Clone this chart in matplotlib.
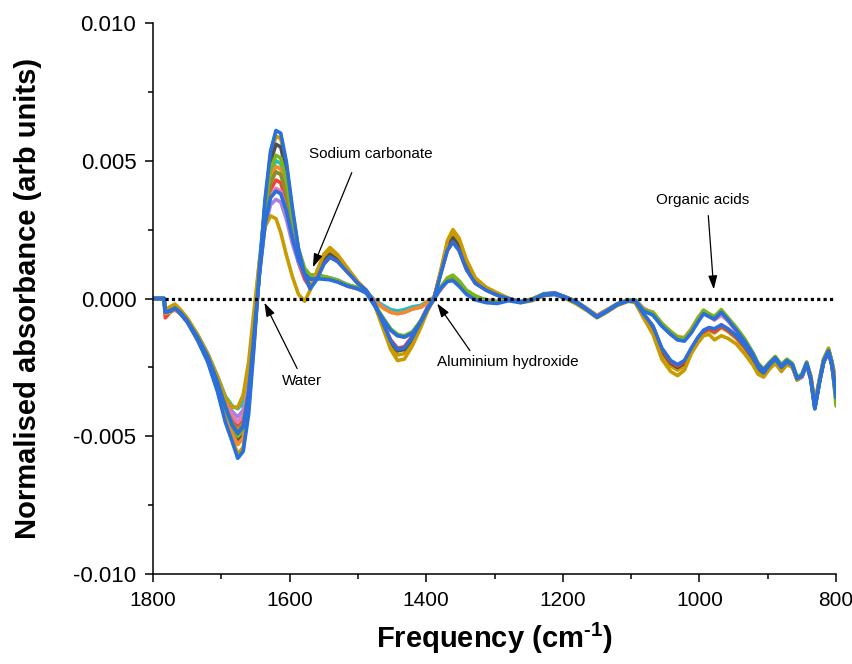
import numpy as np
import matplotlib

matplotlib.use("Agg")
import matplotlib.pyplot as plt
from matplotlib.ticker import MultipleLocator, FormatStrFormatter

plt.rcParams["font.family"] = ["Liberation Sans", "DejaVu Sans"]
plt.rcParams["axes.unicode_minus"] = False
plt.rcParams["mathtext.fontset"] = "custom"
plt.rcParams["mathtext.rm"] = "Liberation Sans:bold"
plt.rcParams["mathtext.bf"] = "Liberation Sans:bold"

# wavenumber grid (cm-1), spectra values below are in units of 1e-3
wavenumber = [
    1800, 1784, 1782, 1775, 1768, 1760, 1750, 1735, 1720, 1706, 1694,
    1684, 1676, 1668, 1660, 1652, 1644, 1636, 1628, 1620, 1613, 1605, 1596, 1587, 1578, 1570,
    1560, 1550, 1541, 1530, 1515, 1500, 1488, 1476, 1463, 1452, 1442, 1432, 1420, 1408, 1398,
    1388, 1378, 1369, 1361, 1352, 1341, 1328,
    1312, 1296, 1280, 1262, 1245, 1228, 1212, 1196, 1180, 1164, 1150, 1136, 1120, 1104, 1094, 1082,
    1068, 1055, 1042, 1032, 1022, 1012, 1002, 994, 986, 978, 968, 958, 946, 934,
    922, 914, 906, 897, 889, 880, 872, 864, 857, 850, 843, 837, 831, 824, 818, 811, 806, 800,
]

gold_a = (
    [0, 0, -0.4, -0.3, -0.2, -0.4, -0.7, -1.3, -2.0, -2.8, -3.6]
    + [-3.95, -3.95, -3.5, -2.3, -0.4, 1.4, 2.6, 3.0, 2.9, 2.4, 1.6, 0.8, 0.15, -0.1, 0.3]
    + [1.0, 1.6, 1.85, 1.6, 1.1, 0.6, 0.3, -0.2, -1.1, -1.85, -2.25, -2.2, -1.7, -1.05, -0.45,
       0.05, 1.1, 2.1, 2.5, 2.2, 1.4, 0.75]
    + [0.4, 0.2, 0.0, -0.15, -0.08, 0.1, 0.15, 0.0, -0.2, -0.45, -0.7, -0.5, -0.25, -0.1, -0.15, -0.7]
    + [-1.3, -2.2, -2.65, -2.8, -2.6, -2.0, -1.6, -1.35, -1.3, -1.5, -1.35, -1.45, -1.65, -2.0]
    + [-2.4, -2.75, -2.85, -2.55, -2.35, -2.65, -2.4, -2.5, -2.95, -2.8, -2.35, -2.8, -3.8, -2.9,
       -2.2, -1.85, -2.3, -3.2]
)
gold_b = (
    [0, 0, -0.5, -0.45, -0.35, -0.55, -0.85, -1.5, -2.25, -3.3, -4.4]
    + [-5.1, -5.65, -5.4, -4.0, -1.6, 1.1, 3.5, 5.2, 5.9, 5.8, 4.9, 3.2, 1.8, 0.9, 0.45]
    + [0.9, 1.45, 1.7, 1.5, 1.05, 0.6, 0.3, -0.2, -1.0, -1.7, -2.05, -2.0, -1.55, -0.95, -0.4,
       0.05, 1.05, 1.95, 2.35, 2.05, 1.3, 0.7]
    + [0.4, 0.2, 0.02, -0.12, -0.05, 0.15, 0.18, 0.05, -0.15, -0.4, -0.65, -0.45, -0.2, -0.08, -0.1, -0.6]
    + [-1.1, -2.0, -2.45, -2.6, -2.45, -1.95, -1.55, -1.25, -1.15, -1.25, -1.05, -1.2, -1.45, -1.8]
    + [-2.2, -2.6, -2.75, -2.45, -2.25, -2.55, -2.35, -2.45, -2.95, -2.85, -2.4, -2.9, -3.95, -3.0,
       -2.3, -1.95, -2.45, -3.6]
)
red = (
    [0, 0, -0.7, -0.5, -0.4, -0.55, -0.8, -1.4, -2.1, -3.0, -3.85]
    + [-4.3, -4.6, -4.35, -3.2, -1.1, 1.0, 2.9, 3.95, 4.3, 4.2, 3.5, 2.3, 1.3, 0.7, 0.4]
    + [0.75, 1.25, 1.5, 1.35, 0.95, 0.55, 0.3, -0.15, -0.9, -1.5, -1.8, -1.75, -1.35, -0.8, -0.3,
       0.1, 1.0, 1.75, 2.05, 1.75, 1.05, 0.55]
    + [0.3, 0.12, 0.0, -0.12, -0.05, 0.15, 0.2, 0.05, -0.12, -0.4, -0.65, -0.45, -0.2, -0.08, -0.1, -0.55]
    + [-1.0, -1.85, -2.3, -2.45, -2.3, -1.85, -1.45, -1.2, -1.1, -1.2, -1.0, -1.15, -1.4, -1.75]
    + [-2.1, -2.5, -2.7, -2.45, -2.2, -2.5, -2.3, -2.4, -2.9, -2.8, -2.35, -2.85, -3.85, -2.95,
       -2.25, -1.9, -2.35, -3.3]
)
violet = (
    [0, 0, -0.45, -0.4, -0.3, -0.45, -0.75, -1.35, -2.05, -2.9, -3.7]
    + [-4.1, -4.3, -4.05, -2.9, -0.9, 1.0, 2.6, 3.4, 3.6, 3.5, 2.9, 2.0, 1.3, 0.9, 0.8]
    + [0.8, 0.75, 0.72, 0.65, 0.45, 0.35, 0.25, -0.05, -0.3, -0.45, -0.5, -0.45, -0.35, -0.3, -0.15,
       0.05, 0.35, 0.65, 0.75, 0.55, 0.25, 0.05]
    + [-0.05, -0.1, -0.05, -0.12, -0.02, 0.15, 0.2, 0.05, -0.12, -0.38, -0.62, -0.42, -0.18, -0.05, -0.05, -0.35]
    + [-0.55, -0.95, -1.25, -1.45, -1.5, -1.2, -0.8, -0.55, -0.65, -0.75, -0.55, -0.8, -1.15, -1.55]
    + [-2.0, -2.4, -2.6, -2.35, -2.15, -2.45, -2.25, -2.4, -2.9, -2.8, -2.35, -2.85, -3.85, -2.95,
       -2.2, -1.85, -2.3, -3.1]
)
cyan = (
    [0, 0, -0.45, -0.4, -0.3, -0.45, -0.75, -1.3, -2.0, -2.8, -3.55]
    + [-3.9, -4.0, -3.8, -2.7, -0.7, 1.4, 3.3, 4.6, 5.0, 4.9, 4.1, 2.8, 1.7, 1.05, 0.85]
    + [0.85, 0.8, 0.75, 0.68, 0.5, 0.38, 0.25, -0.05, -0.25, -0.4, -0.45, -0.4, -0.3, -0.25, -0.1,
       0.05, 0.4, 0.7, 0.8, 0.6, 0.28, 0.08]
    + [-0.05, -0.12, -0.05, -0.1, -0.02, 0.18, 0.2, 0.05, -0.12, -0.38, -0.62, -0.42, -0.2, -0.05, -0.05, -0.4]
    + [-0.6, -1.0, -1.3, -1.45, -1.45, -1.15, -0.75, -0.5, -0.6, -0.7, -0.5, -0.75, -1.1, -1.5]
    + [-2.0, -2.4, -2.6, -2.35, -2.15, -2.45, -2.25, -2.4, -2.9, -2.75, -2.35, -2.85, -3.8, -2.9,
       -2.2, -1.85, -2.3, -3.2]
)
green = (
    [0, 0, -0.5, -0.45, -0.35, -0.5, -0.8, -1.4, -2.1, -3.05, -4.0]
    + [-4.65, -5.0, -4.75, -3.5, -1.3, 1.1, 3.3, 4.7, 5.2, 5.1, 4.3, 2.9, 1.8, 1.1, 0.85]
    + [0.85, 0.8, 0.75, 0.65, 0.5, 0.4, 0.25, -0.2, -0.7, -1.1, -1.3, -1.35, -1.2, -0.8, -0.35,
       0.0, 0.45, 0.75, 0.85, 0.65, 0.3, 0.1]
    + [-0.08, -0.15, -0.05, -0.12, -0.02, 0.15, 0.18, 0.05, -0.12, -0.4, -0.65, -0.45, -0.2, -0.05, -0.05, -0.4]
    + [-0.5, -0.9, -1.2, -1.4, -1.45, -1.15, -0.7, -0.42, -0.55, -0.65, -0.4, -0.7, -1.05, -1.45]
    + [-1.95, -2.35, -2.55, -2.3, -2.1, -2.4, -2.2, -2.35, -2.85, -2.75, -2.3, -2.85, -3.9, -2.95,
       -2.2, -1.8, -2.3, -3.9]
)
olive = (
    [0, 0, -0.5, -0.45, -0.35, -0.5, -0.8, -1.4, -2.1, -3.0, -3.9]
    + [-4.5, -4.8, -4.55, -3.35, -1.2, 1.0, 3.0, 4.2, 4.6, 4.5, 3.8, 2.6, 1.6, 1.0, 0.8]
    + [0.8, 0.75, 0.7, 0.62, 0.48, 0.38, 0.25, -0.2, -0.75, -1.15, -1.35, -1.4, -1.25, -0.85, -0.38,
       0.0, 0.42, 0.7, 0.8, 0.6, 0.28, 0.08]
    + [-0.1, -0.15, -0.05, -0.13, -0.03, 0.15, 0.18, 0.05, -0.13, -0.42, -0.66, -0.45, -0.2, -0.06, -0.06, -0.42]
    + [-0.55, -0.95, -1.25, -1.45, -1.5, -1.2, -0.75, -0.48, -0.6, -0.7, -0.45, -0.75, -1.1, -1.5]
    + [-2.0, -2.4, -2.6, -2.35, -2.15, -2.45, -2.25, -2.4, -2.9, -2.8, -2.35, -2.9, -3.95, -3.0,
       -2.25, -1.85, -2.35, -3.7]
)
pink = (
    [0, 0, -0.5, -0.45, -0.35, -0.5, -0.8, -1.4, -2.1, -2.95, -3.8]
    + [-4.25, -4.5, -4.25, -3.1, -1.0, 1.0, 2.8, 3.75, 4.0, 3.9, 3.25, 2.2, 1.4, 0.95, 0.8]
    + [0.78, 0.72, 0.7, 0.62, 0.45, 0.35, 0.22, -0.08, -0.32, -0.5, -0.55, -0.5, -0.38, -0.32, -0.15,
       0.05, 0.35, 0.62, 0.72, 0.52, 0.22, 0.03]
    + [-0.08, -0.12, -0.06, -0.12, -0.03, 0.15, 0.2, 0.05, -0.12, -0.38, -0.63, -0.43, -0.2, -0.06, -0.06, -0.38]
    + [-0.55, -0.95, -1.3, -1.5, -1.5, -1.2, -0.8, -0.55, -0.65, -0.78, -0.6, -0.82, -1.2, -1.6]
    + [-2.05, -2.45, -2.65, -2.4, -2.2, -2.5, -2.3, -2.45, -2.95, -2.85, -2.4, -2.9, -3.9, -3.0,
       -2.25, -1.9, -2.35, -3.3]
)
dark_grey = (
    [0, 0, -0.5, -0.45, -0.35, -0.5, -0.8, -1.45, -2.15, -3.1, -4.1]
    + [-4.8, -5.2, -4.95, -3.7, -1.4, 1.1, 3.4, 4.95, 5.6, 5.5, 4.6, 3.0, 1.7, 0.85, 0.4]
    + [0.8, 1.35, 1.6, 1.4, 1.0, 0.55, 0.3, -0.15, -0.95, -1.6, -1.9, -1.85, -1.45, -0.88, -0.35,
       0.05, 1.0, 1.85, 2.2, 1.9, 1.15, 0.6]
    + [0.35, 0.15, 0.0, -0.12, -0.05, 0.15, 0.18, 0.05, -0.15, -0.4, -0.65, -0.45, -0.2, -0.08, -0.1, -0.55]
    + [-1.05, -1.9, -2.35, -2.5, -2.35, -1.9, -1.5, -1.2, -1.1, -1.2, -1.0, -1.15, -1.4, -1.75]
    + [-2.15, -2.55, -2.7, -2.45, -2.25, -2.55, -2.35, -2.45, -2.95, -2.85, -2.4, -2.95, -4.0, -3.0,
       -2.3, -1.95, -2.45, -3.5]
)
orange = (
    [0, 0, -0.55, -0.5, -0.4, -0.55, -0.85, -1.45, -2.2, -3.15, -4.15]
    + [-4.9, -5.3, -5.05, -3.7, -1.4, 1.0, 3.1, 4.4, 4.8, 4.7, 4.0, 2.7, 1.7, 1.05, 0.85]
    + [0.82, 0.78, 0.74, 0.66, 0.48, 0.36, 0.22, -0.1, -0.35, -0.5, -0.55, -0.5, -0.38, -0.3, -0.12,
       0.05, 0.38, 0.68, 0.78, 0.58, 0.25, 0.05]
    + [-0.06, -0.12, -0.05, -0.12, -0.02, 0.16, 0.2, 0.05, -0.12, -0.38, -0.62, -0.42, -0.2, -0.05, -0.05, -0.38]
    + [-0.5, -0.9, -1.2, -1.38, -1.42, -1.1, -0.7, -0.45, -0.58, -0.68, -0.48, -0.72, -1.1, -1.5]
    + [-2.0, -2.4, -2.6, -2.35, -2.15, -2.45, -2.25, -2.4, -2.9, -2.8, -2.35, -2.85, -3.85, -2.95,
       -2.2, -1.85, -2.3, -3.0]
)
blue_a = (
    [0, 0, -0.5, -0.45, -0.35, -0.5, -0.8, -1.4, -2.1, -3.0, -3.95]
    + [-4.6, -4.9, -4.65, -3.4, -1.3, 0.9, 2.7, 3.65, 3.9, 3.8, 3.2, 2.2, 1.4, 0.9, 0.7]
    + [0.72, 0.7, 0.68, 0.6, 0.45, 0.35, 0.2, -0.25, -0.75, -1.15, -1.35, -1.4, -1.25, -0.85, -0.38,
       0.0, 0.4, 0.62, 0.65, 0.45, 0.15, -0.05]
    + [-0.15, -0.18, -0.08, -0.15, -0.05, 0.12, 0.15, 0.02, -0.15, -0.42, -0.68, -0.48, -0.22, -0.08, -0.08, -0.45]
    + [-0.6, -1.0, -1.3, -1.5, -1.55, -1.25, -0.85, -0.55, -0.65, -0.75, -0.5, -0.78, -1.15, -1.55]
    + [-2.0, -2.4, -2.6, -2.35, -2.15, -2.45, -2.25, -2.4, -2.9, -2.8, -2.35, -2.9, -3.95, -3.0,
       -2.25, -1.9, -2.35, -3.4]
)
blue_b = (
    [0, 0, -0.5, -0.45, -0.35, -0.55, -0.85, -1.5, -2.3, -3.35, -4.5]
    + [-5.2, -5.8, -5.55, -4.2, -1.7, 1.1, 3.6, 5.35, 6.1, 6.0, 5.0, 3.3, 1.8, 0.85, 0.35]
    + [0.7, 1.25, 1.5, 1.35, 0.95, 0.55, 0.3, -0.15, -0.9, -1.55, -1.85, -1.8, -1.4, -0.85, -0.35,
       0.05, 0.95, 1.75, 2.05, 1.75, 1.05, 0.55]
    + [0.3, 0.12, 0.0, -0.12, -0.05, 0.15, 0.2, 0.05, -0.12, -0.4, -0.66, -0.45, -0.2, -0.08, -0.1, -0.55]
    + [-1.0, -1.8, -2.25, -2.4, -2.25, -1.8, -1.4, -1.15, -1.05, -1.1, -0.95, -1.1, -1.35, -1.7]
    + [-2.1, -2.5, -2.7, -2.4, -2.2, -2.5, -2.3, -2.4, -2.9, -2.8, -2.35, -2.9, -4.0, -3.0,
       -2.3, -1.95, -2.4, -3.6]
)

# draw order, last one ends up on top
spectra = [gold_b, dark_grey, red, violet, cyan, pink, orange, olive, green, gold_a, blue_a, blue_b]
colors = ["#C99B00", "#4F4F4F", "#F2413B", "#A97FE3", "#20BFC6", "#E87AB2",
          "#EF8B2C", "#8C8C2C", "#7CB518", "#C99B00", "#2B6FDB", "#2B6FDB"]

notes = ["Sodium carbonate", "Water", "Aluminium hydroxide", "Organic acids"]
note_text_xy = [(1481, 5.23e-3), (1582, -3.0e-3), (1280, -2.32e-3), (995, 3.59e-3)]
note_tip_xy = [(1566, 1.13e-3), (1637, -0.15e-3), (1384, -0.18e-3), (979, 0.33e-3)]
note_tail_xy = [(1509, 4.57e-3), (1589, -2.54e-3), (1336, -1.89e-3), (987, 3.01e-3)]

fig = plt.figure(figsize=(8.53, 6.64), dpi=100)
ax = fig.add_axes([0.1794, 0.1355, 0.8007, 0.8298])

wn = np.array(wavenumber)
for vals, col in zip(spectra, colors):
    ax.plot(wn, np.array(vals) * 1e-3, color=col, lw=2.6,
            solid_joinstyle="round", solid_capstyle="round")

ax.hlines(0, 1783, 800, colors="black", linestyles=(0, (1, 1)), lw=2.3, zorder=5)

for label, txy, tip, tail in zip(notes, note_text_xy, note_tip_xy, note_tail_xy):
    ax.text(*txy, label, fontsize=11, ha="center", va="center")
    ax.annotate("", xy=tip, xytext=tail,
                arrowprops=dict(arrowstyle="-|>,head_length=0.55,head_width=0.18",
                                mutation_scale=15, lw=0.9, color="black",
                                shrinkA=0, shrinkB=0))

ax.set_xlim(1800, 800)
ax.set_ylim(-0.010, 0.010)
ax.xaxis.set_major_locator(MultipleLocator(200))
ax.xaxis.set_minor_locator(MultipleLocator(100))
ax.yaxis.set_major_locator(MultipleLocator(0.005))
ax.yaxis.set_minor_locator(MultipleLocator(0.0025))
ax.yaxis.set_major_formatter(FormatStrFormatter("%.3f"))

for spine in ("top", "right"):
    ax.spines[spine].set_visible(False)
for spine in ("left", "bottom"):
    ax.spines[spine].set_linewidth(1.1)
ax.tick_params(which="major", direction="out", length=6, width=1.1)
ax.tick_params(which="minor", direction="out", length=3.5, width=1.1)
ax.tick_params(axis="x", pad=6, labelsize=15)
ax.tick_params(axis="y", pad=6, labelsize=16)

ax.set_xlabel(r"Frequency (cm$^{\text{-}1}$)", fontsize=21, fontweight="bold")
ax.xaxis.set_label_coords(0.5, -0.085)
ax.set_ylabel("Normalised absorbance (arb units)", fontsize=21, fontweight="bold")
ax.yaxis.set_label_coords(-0.162, 0.5)

fig.savefig("out.png", dpi=100, facecolor="white")
